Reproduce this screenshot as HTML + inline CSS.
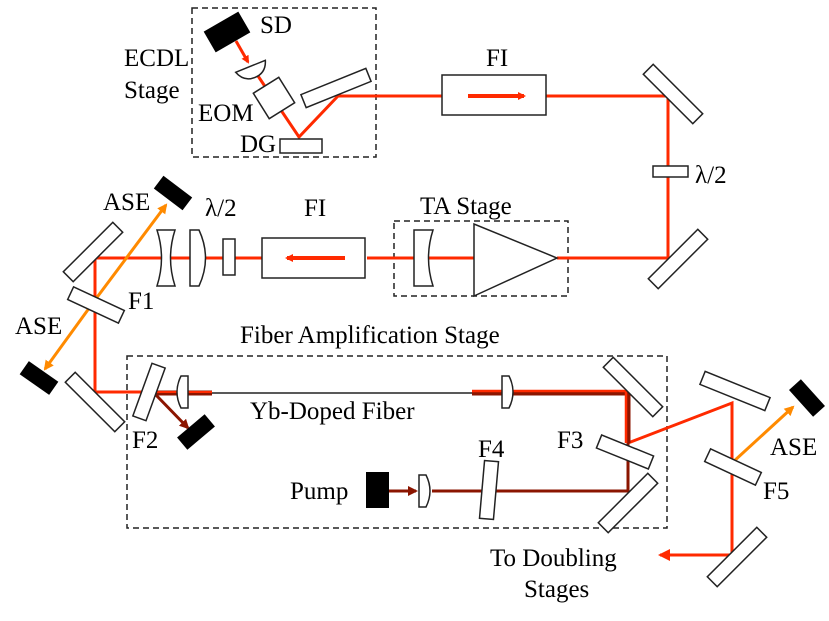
<!DOCTYPE html>
<html><head><meta charset="utf-8"><style>
html,body{margin:0;padding:0;background:#fff;}
svg{display:block;}
text{font-family:"Liberation Serif",serif;font-size:25px;fill:#000;}
</style></head><body>
<svg width="829" height="621" viewBox="0 0 829 621" xmlns="http://www.w3.org/2000/svg">
<defs>
<marker id="ar" markerWidth="8" markerHeight="8" refX="6" refY="4" orient="auto" markerUnits="userSpaceOnUse"><path d="M0,0 L8,4 L0,8 z" fill="#ff2a00"/></marker>
<marker id="ao" markerWidth="10" markerHeight="10" refX="8" refY="5" orient="auto" markerUnits="userSpaceOnUse"><path d="M0,0 L10,5 L0,10 z" fill="#ff8a00"/></marker>
<marker id="ad" markerWidth="10" markerHeight="10" refX="8" refY="5" orient="auto" markerUnits="userSpaceOnUse"><path d="M0,0 L10,5 L0,10 z" fill="#8b1500"/></marker>
<marker id="ar2" markerWidth="12" markerHeight="12" refX="10" refY="6" orient="auto" markerUnits="userSpaceOnUse"><path d="M0,0 L12,6 L0,12 z" fill="#ff2a00"/></marker>
</defs>
<g fill="none" stroke="#222" stroke-width="1.5" stroke-dasharray="6,4">
<rect x="192" y="8" width="184" height="149"/>
<rect x="394" y="221" width="174" height="75"/>
<rect x="127" y="356" width="540" height="172"/>
</g>
<g stroke="#ff2a00" stroke-width="3" fill="none">
<polyline points="256,73 299,137 338,96 668,96 668,258 557,258"/>
<line x1="474" y1="258" x2="367" y2="258"/>
<polyline points="262,258 95,258 95,392 155,392"/>
<polyline points="628,443 732,403 732,555 660,555" marker-end="url(#ar2)"/>
<line x1="236" y1="41" x2="248" y2="62" marker-end="url(#ar)"/>
</g>
<line x1="212" y1="393" x2="472" y2="393" stroke="#222" stroke-width="1.5"/>
<polyline points="155,393 212,393" stroke="#8b1500" stroke-width="5" fill="none"/>
<polyline points="155,392 212,392" stroke="#ff2a00" stroke-width="2" fill="none"/>
<polyline points="472,393 628,393 628,443" stroke="#8b1500" stroke-width="5" fill="none"/>
<polyline points="472,391 626,391 626,443" stroke="#ff2a00" stroke-width="2.5" fill="none"/>
<polyline points="432,491 628,491 628,443" stroke="#8b1500" stroke-width="3" fill="none"/>
<line x1="389" y1="491" x2="416" y2="491" stroke="#8b1500" stroke-width="3" marker-end="url(#ad)"/>
<line x1="155" y1="394" x2="188" y2="428" stroke="#8b1500" stroke-width="3" marker-end="url(#ad)"/>
<line x1="95" y1="300" x2="166" y2="205" stroke="#ff8a00" stroke-width="3" marker-end="url(#ao)"/>
<line x1="95" y1="300" x2="45" y2="369" stroke="#ff8a00" stroke-width="3" marker-end="url(#ao)"/>
<line x1="733" y1="462" x2="793" y2="407" stroke="#ff8a00" stroke-width="3" marker-end="url(#ao)"/>
<g fill="#000">
<rect x="-20" y="-12" width="40" height="24" transform="translate(227,32) rotate(-30)"/>
<rect x="-18" y="-8" width="36" height="16" transform="translate(173,193) rotate(37)"/>
<rect x="-18" y="-8" width="36" height="16" transform="translate(39,378) rotate(35)"/>
<rect x="-18" y="-8" width="36" height="16" transform="translate(196,432) rotate(-40)"/>
<rect x="-18" y="-8" width="36" height="16" transform="translate(807,398) rotate(48)"/>
<rect x="366" y="472" width="23" height="36"/>
</g>
<g fill="#fff" stroke="#222" stroke-width="1.5">
<rect x="442" y="75" width="104" height="40"/>
<rect x="262" y="238" width="103" height="40"/>
<rect x="-15" y="-15" width="30" height="30" transform="translate(274,98) rotate(-32)"/>
<rect x="-35" y="-7" width="70" height="14" transform="translate(336,88) rotate(-22)"/>
<rect x="280" y="139" width="42" height="14"/>
<rect x="-35" y="-7" width="70" height="14" transform="translate(673,94) rotate(45)"/>
<rect x="653" y="166" width="35" height="11"/>
<rect x="-35" y="-7" width="70" height="14" transform="translate(678,259) rotate(-45)"/>
<rect x="223" y="239" width="12" height="36"/>
<rect x="-35" y="-7" width="70" height="14" transform="translate(93,252) rotate(-45)"/>
<rect x="-28" y="-7" width="56" height="14" transform="translate(96,305) rotate(25)"/>
<rect x="-35" y="-7" width="70" height="14" transform="translate(95,402) rotate(45)"/>
<rect x="-28" y="-7" width="56" height="14" transform="translate(149,392) rotate(-70)"/>
<rect x="-35" y="-7" width="70" height="14" transform="translate(633,387) rotate(45)"/>
<rect x="-28" y="-7" width="56" height="14" transform="translate(625,452) rotate(22)"/>
<rect x="-35" y="-7" width="70" height="14" transform="translate(628,503) rotate(-45)"/>
<rect x="-7" y="-29" width="14" height="58" transform="translate(489,490) rotate(5)"/>
<rect x="-35" y="-7" width="70" height="14" transform="translate(735,391) rotate(22)"/>
<rect x="-28" y="-7" width="56" height="14" transform="translate(733,467) rotate(25)"/>
<rect x="-35" y="-7" width="70" height="14" transform="translate(737,557) rotate(-45)"/>
<polygon points="474,224 474,296 557,258"/>
<path d="M157,230 L175,230 Q166,258 175,286 L157,286 Q166,258 157,230 z"/>
<path d="M190,230 L199,230 Q212,258 199,286 L190,286 z"/>
<path d="M414,230 L433,230 Q424,258 433,286 L414,286 z"/>
<path d="M188,376 L188,408 L181,408 Q173,392 181,376 z"/>
<path d="M502,376 L502,408 L509,408 Q517,392 509,376 z"/>
<path d="M419,475 L419,507 L426,507 Q434,491 426,475 z"/>
<path d="M-16,-4 L16,-4 Q12,8 0,8 Q-12,8 -16,-4 z" transform="translate(252,70) rotate(-22)"/>
</g>
<line x1="468" y1="96" x2="524" y2="96" stroke="#ff2a00" stroke-width="4" marker-end="url(#ar)"/>
<line x1="345" y1="258" x2="287" y2="258" stroke="#ff2a00" stroke-width="4" marker-end="url(#ar)"/>
<text x="260" y="33">SD</text>
<text x="124" y="66">ECDL</text>
<text x="124" y="98">Stage</text>
<text x="198" y="121">EOM</text>
<text x="240" y="152">DG</text>
<text x="486" y="66">FI</text>
<text x="695" y="183">λ/2</text>
<text x="420" y="214">TA Stage</text>
<text x="304" y="216">FI</text>
<text x="205" y="216">λ/2</text>
<text x="103" y="210">ASE</text>
<text x="128" y="309">F1</text>
<text x="15" y="334">ASE</text>
<text x="240" y="343">Fiber Amplification Stage</text>
<text x="132" y="448">F2</text>
<text x="250" y="419">Yb-Doped Fiber</text>
<text x="557" y="448">F3</text>
<text x="478" y="457">F4</text>
<text x="290" y="499">Pump</text>
<text x="770" y="455">ASE</text>
<text x="763" y="499">F5</text>
<text x="490" y="566">To Doubling</text>
<text x="524" y="597">Stages</text>
</svg>
</body></html>
